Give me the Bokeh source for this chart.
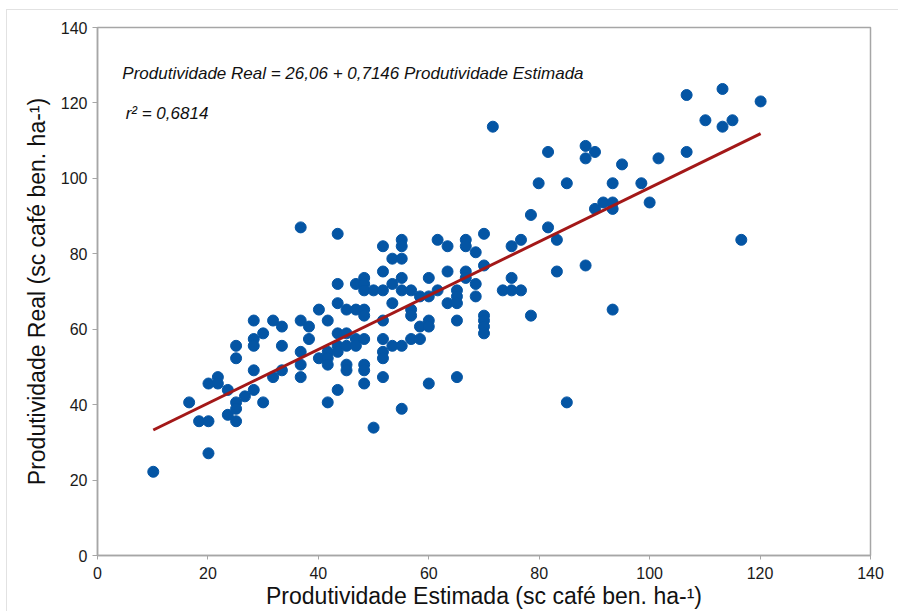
from bokeh.plotting import figure
from bokeh.models import Label, Range1d
from bokeh.embed import file_html
from bokeh.resources import INLINE

# Produtividade Estimada (x) and Produtividade Real (y)
est = [
    10.1,
    16.6,
    18.4,
    20.1, 20.1, 20.1,
    21.8, 21.8,
    23.6, 23.6,
    25.1, 25.1, 25.1, 25.1, 25.1,
    26.7,
    28.3, 28.3, 28.3, 28.3, 28.3,
    30.0, 30.0,
    31.8, 31.8,
    33.4, 33.4, 33.4,
    36.8, 36.8, 36.8, 36.8, 36.8,
    38.3, 38.3,
    40.1, 40.1,
    41.7, 41.7, 41.7, 41.7, 41.7,
    43.5, 43.5, 43.5, 43.5, 43.5, 43.5, 43.5,
    45.1, 45.1, 45.1, 45.1, 45.1,
    46.8, 46.8, 46.8, 46.8,
    48.3, 48.3, 48.3, 48.3, 48.3, 48.3, 48.3, 48.3, 48.3,
    50.0, 50.0,
    51.7, 51.7, 51.7, 51.7, 51.7, 51.7, 51.7, 51.7,
    53.4, 53.4, 53.4, 53.4,
    55.1, 55.1, 55.1, 55.1, 55.1, 55.1, 55.1,
    56.8, 56.8, 56.8, 56.8,
    58.4, 58.4, 58.4,
    60.0, 60.0, 60.0, 60.0, 60.0,
    61.6, 61.6,
    63.4, 63.4, 63.4,
    65.1, 65.1, 65.1, 65.1, 65.1,
    66.7, 66.7, 66.7, 66.7,
    68.5, 68.5, 68.5,
    70.0, 70.0, 70.0, 70.0, 70.0, 70.0,
    71.6,
    73.4,
    75.0, 75.0, 75.0,
    76.7, 76.7,
    78.5, 78.5,
    79.9,
    81.6, 81.6,
    83.2, 83.2,
    85.0, 85.0,
    88.4, 88.4, 88.4,
    90.1, 90.1,
    91.6,
    93.3, 93.3, 93.3, 93.3,
    95.0,
    98.5,
    100.0,
    101.6,
    106.7, 106.7,
    110.1,
    113.2, 113.2,
    115.0,
    116.6,
    120.1,
]
real = [
    22.2,
    40.6,
    35.6,
    35.6, 45.6, 27.1,
    47.3, 45.6,
    43.9, 37.3,
    55.6, 52.3, 40.6, 38.9, 35.6,
    42.2,
    62.3, 57.4, 55.6, 49.1, 43.9,
    58.9, 40.6,
    62.3, 47.3,
    60.7, 55.6, 49.1,
    87.0, 62.3, 54.0, 50.6, 47.3,
    60.7, 57.4,
    65.2, 52.3,
    62.3, 54.0, 52.3, 50.6, 40.6,
    85.3, 72.0, 66.9, 58.9, 55.6, 54.0, 43.9,
    65.2, 58.9, 55.6, 50.6, 49.1,
    72.0, 65.2, 57.4, 55.6,
    73.6, 72.0, 70.3, 65.2, 63.6, 57.4, 50.6, 49.1, 45.6,
    70.3, 33.9,
    82.0, 75.3, 70.3, 62.3, 57.4, 54.0, 52.3, 47.3,
    78.7, 72.0, 66.9, 55.6,
    83.7, 82.0, 78.7, 73.6, 70.3, 55.6, 38.9,
    70.3, 65.2, 63.6, 57.4,
    68.7, 60.7, 57.4,
    73.6, 68.7, 62.3, 60.7, 45.6,
    83.7, 70.3,
    82.0, 75.3, 66.9,
    70.3, 68.7, 66.9, 62.3, 47.3,
    83.7, 82.0, 75.3, 73.6,
    80.4, 72.0, 68.7,
    85.3, 76.9, 63.6, 62.3, 60.7, 58.9,
    113.7,
    70.3,
    82.0, 73.6, 70.3,
    83.7, 70.3,
    90.3, 63.6,
    98.7,
    107.0, 87.0,
    83.7, 75.3,
    98.7, 40.6,
    108.6, 105.3, 76.9,
    107.0, 91.9,
    93.6,
    98.7, 93.6, 91.9, 65.2,
    103.7,
    98.7,
    93.6,
    105.3,
    122.1, 107.0,
    115.4,
    123.7, 113.7,
    115.4,
    83.7,
    120.4,
]

intercept = 26.06
slope = 0.7146
r2_text = "r² = 0,6814"
eq_text = "Produtividade Real = 26,06 + 0,7146 Produtividade Estimada"
x_ticks = [0, 20, 40, 60, 80, 100, 120, 140]
y_ticks = [0, 20, 40, 60, 80, 100, 120, 140]
x_title = "Produtividade Estimada (sc café ben. ha-¹)"
y_title = "Produtividade Real (sc café ben. ha-¹)"

FONT = "Liberation Sans"
AXIS_GRAY = "#a6a6a6"

p = figure(width=892, height=602, output_backend="svg", toolbar_location=None,
           x_range=Range1d(0, 140), y_range=Range1d(0, 140),
           min_border_left=90, min_border_top=17, min_border_right=29,
           min_border_bottom=57)
p.styles = {"margin-left": "7px", "margin-top": "10px",
            "box-shadow": "-1px -1px 0 #e2e2e2"}
p.background_fill_color = "white"
p.border_fill_color = "white"
p.outline_line_color = AXIS_GRAY
p.outline_line_width = 1.5
p.grid.visible = False

p.scatter(est, real, size=11, marker="circle", fill_color="#0455a4",
          line_color="#0455a4")

fit_x = [min(est), max(est)]
fit_y = [intercept + slope * v for v in fit_x]
p.line(fit_x, fit_y, line_color="#a31818", line_width=3)

for ax in (p.xaxis, p.yaxis):
    ax.axis_line_color = AXIS_GRAY
    ax.axis_line_width = 1.5
    ax.major_tick_line_color = AXIS_GRAY
    ax.major_tick_line_width = 1
    ax.minor_tick_line_color = None
    ax.major_tick_in = 0
    ax.major_label_text_font = FONT
    ax.major_label_text_font_size = "16px"
    ax.major_label_text_color = "#1a1a1a"
    ax.axis_label_text_font = FONT
    ax.axis_label_text_font_size = "23px"
    ax.axis_label_text_font_style = "normal"
    ax.axis_label_text_color = "#111111"

p.xaxis.ticker = x_ticks
p.yaxis.ticker = y_ticks
p.xaxis.major_tick_out = 4
p.yaxis.major_tick_out = 5
p.xaxis.major_label_standoff = 7
p.yaxis.major_label_standoff = 5
p.xaxis.axis_label = x_title
p.yaxis.axis_label = y_title
p.xaxis.axis_label_standoff = 1
p.yaxis.axis_label_standoff = 8

p.add_layout(Label(x=4.5, y=127.8, text=eq_text, text_font=FONT,
                   text_font_size="17px", text_font_style="italic",
                   text_baseline="middle", text_color="#111111"))
p.add_layout(Label(x=5.1, y=117.2, text=r2_text, text_font=FONT,
                   text_font_size="17px", text_font_style="italic",
                   text_baseline="middle", text_color="#111111"))

open("out.html", "w").write(file_html(p, INLINE))
